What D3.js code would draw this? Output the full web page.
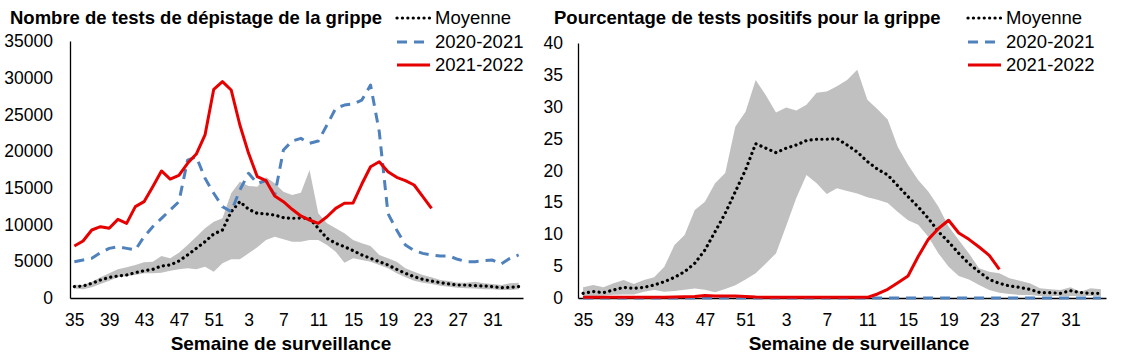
<!DOCTYPE html>
<html>
<head>
<meta charset="utf-8">
<script src="https://cdn.jsdelivr.net/npm/d3@7"></script>
<style>
  body { margin: 0; background: #fff; }
  svg { font-family: "Liberation Sans", Arial, sans-serif; }
</style>
</head>
<body>
<svg id="chart" width="1125" height="360"></svg>
<script>
// Surveillance weeks (season starts at week 35)
const weeks = [35, 36, 37, 38, 39, 40, 41, 42, 43, 44, 45, 46, 47, 48, 49, 50, 51, 52,
  1, 2, 3, 4, 5, 6, 7, 8, 9, 10, 11, 12, 13, 14, 15, 16, 17, 18, 19, 20, 21, 22, 23, 24,
  25, 26, 27, 28, 29, 30, 31, 32, 33, 34];
const tickWeeks = [35, 39, 43, 47, 51, 3, 7, 11, 15, 19, 23, 27, 31];
const seriesNames = ["Moyenne", "2020-2021", "2021-2022"];

// Left panel: number of tests
const testsTicks = [0, 5000, 10000, 15000, 20000, 25000, 30000, 35000];
const testsMoyenne = [1540, 1630, 2000, 2450, 2810, 3000, 3130, 3450, 3720, 3900, 4360, 4490, 5040,
  5860, 6760, 7670, 8720, 9260, 11750, 13120, 12080, 11530, 11440, 11300, 10940, 10850, 10900,
  10850, 9490, 8130, 7450, 6990, 6450, 5860, 5400, 4950, 4490, 3900, 3360, 2900, 2540, 2310,
  2090, 1910, 1770, 1770, 1680, 1630, 1540, 1400, 1450, 1540];
const testsMin = [1300, 1180, 1450, 1910, 2360, 2810, 3000, 3130, 3360, 3360, 3450, 3720, 3900,
  4040, 3900, 4270, 3580, 4720, 5270, 5270, 6080, 6900, 7900, 8350, 7990, 7670, 7670, 7900,
  7900, 7220, 6310, 4810, 5400, 5170, 4950, 4490, 4040, 3360, 2810, 2360, 2090, 1910, 1680,
  1540, 1400, 1320, 1290, 1180, 1180, 1090, 1090, 1180];
const testsMax = [1800, 1770, 2220, 2810, 3360, 3900, 4180, 4490, 4860, 4950, 5720, 5400, 6170,
  7220, 8350, 9490, 10390, 10850, 14260, 15840, 15250, 15160, 16430, 15620, 14480, 14030, 14350,
  17430, 11530, 10170, 9490, 8810, 7900, 7450, 7080, 5860, 5400, 4950, 4040, 3580, 3130, 2810,
  2450, 2310, 2090, 2090, 2220, 2000, 1910, 1770, 2000, 2090];
const tests2021 = [4950, 5170, 5400, 6170, 6760, 6990, 6760, 6540, 8350, 9710, 10850, 11980, 13120,
  18790, 19240, 16300, 14260, 12440, 11750, 14710, 16980, 15600, 16000, 14000, 20150, 21380,
  21740, 21060, 21380, 23560, 25830, 26280, 26420, 26960, 29000, 22650, 11500, 9260, 7220, 6450,
  6080, 5860, 5720, 5720, 5270, 4950, 4950, 5080, 5170, 4630, 5400, 5860];
const tests2022 = [7080, 7760, 9260, 9710, 9490, 10710, 10170, 12440, 13120, 15160, 17300, 16200,
  16700, 18340, 19610, 22200, 28420, 29460, 28330, 23560, 19700, 16520, 15980, 13890, 13120,
  12080, 11170, 10620, 10170, 11070, 12210, 12900, 12950, 15520, 17880, 18560, 17200, 16430,
  15980, 15390, 13800, 12210];

// Right panel: percentage of positive tests
const posTicks = [0, 5, 10, 15, 20, 25, 30, 35, 40];
const posMoyenne = [0.73, 1.0, 0.84, 1.25, 1.67, 1.5, 1.67, 2.04, 2.56, 3.24, 4.13, 5.44, 7.53,
  10.4, 13.3, 16.7, 20.1, 24.2, 23.5, 22.8, 23.5, 24.0, 24.7, 24.9, 24.9, 25.0, 24.0, 22.9, 21.4,
  20.2, 19.3, 17.6, 15.9, 14.3, 12.5, 10.4, 8.8, 7.0, 5.4, 4.1, 2.9, 2.3, 1.88, 1.67, 1.36, 0.84,
  0.84, 0.73, 1.15, 0.84, 0.73, 0.73];
const posMin = [0.3, 0.3, 0.35, 0.5, 0.55, 0.55, 1.0, 1.25, 1.0, 1.1, 1.3, 1.5, 1.3, 0.9, 1.4,
  2.0, 2.9, 3.9, 5.4, 7.0, 11.3, 15.7, 19.3, 18.0, 16.3, 17.2, 16.8, 16.4, 15.8, 15.4, 14.9, 13.5,
  12.2, 11.5, 9.6, 7.0, 4.9, 3.45, 2.9, 2.04, 1.25, 0.84, 0.63, 0.47, 0.47, 0.31, 0.31, 0.31,
  0.31, 0.31, 0.31, 0.31];
const posMax = [1.67, 2.04, 1.67, 2.3, 2.82, 2.2, 2.82, 3.24, 4.9, 8.3, 9.9, 13.8, 15.1, 18.0,
  19.6, 26.9, 29.2, 34.2, 31.8, 29.1, 29.9, 29.4, 30.3, 32.2, 32.4, 33.2, 34.2, 35.8, 31.1, 29.6,
  28.0, 23.7, 20.9, 18.5, 16.7, 14.3, 11.2, 9.1, 7.0, 4.65, 4.1, 3.87, 3.08, 2.72, 2.3, 1.52,
  1.36, 1.25, 1.67, 1.0, 1.52, 1.36];
const pos2021 = [0, 0, 0, 0, 0, 0, 0, 0, 0, 0, 0, 0, 0, 0, 0, 0, 0, 0, 0, 0, 0, 0, 0, 0, 0, 0,
  0, 0, 0, 0, 0, 0, 0, 0, 0, 0, 0, 0, 0, 0, 0, 0, 0, 0, 0, 0, 0, 0, 0, 0, 0, 0];
const pos2022 = [0.1, 0.1, 0.1, 0.1, 0.1, 0.1, 0.1, 0.1, 0.1, 0.15, 0.2, 0.25, 0.4, 0.3, 0.3,
  0.3, 0.25, 0.15, 0.1, 0.1, 0.1, 0.1, 0.1, 0.1, 0.1, 0.1, 0.1, 0.1, 0.1, 0.63, 1.36, 2.4, 3.45,
  6.5, 9.2, 10.9, 12.2, 10.2, 9.2, 8.0, 6.7, 4.5];

const svg = d3.select("#chart");
const bottom = 298;

// series styles: dotted mean, dashed previous season, solid current season
const styles = [
  { color: "#000", dash: "0.1 5.3", cap: "round", width: 3.2 },
  { color: "#4f81bd", dash: "10 7", cap: "butt", width: 3 },
  { color: "#e60000", dash: null, cap: "butt", width: 3 }
];

function drawPanel(p) {
  const x = d3.scalePoint()
    .domain(weeks)
    .range([p.left, p.right])
    .padding(0.5);

  const y = d3.scaleLinear()
    .domain([0, p.ticks[p.ticks.length - 1]])
    .range([bottom, p.top]);

  const g = svg.append("g");

  // min-max band
  const area = d3.area()
    .x((d, i) => x(weeks[i]))
    .y0((d, i) => y(p.min[i]))
    .y1((d, i) => y(p.max[i]));

  g.append("path")
    .datum(p.max)
    .attr("d", area)
    .attr("fill", "#c0c0c0");

  // axes
  const yAxis = g.append("g")
    .attr("transform", `translate(${p.left},0)`)
    .call(d3.axisLeft(y).tickValues(p.ticks).tickSize(0).tickPadding(p.yPad).tickFormat(d3.format("d")))
    .attr("font-size", 17.5)
    .attr("font-family", null);

  const xAxis = g.append("g")
    .attr("transform", `translate(0,${bottom})`)
    .call(d3.axisBottom(x).tickValues(tickWeeks).tickSize(0).tickPadding(16))
    .attr("font-size", 17.5)
    .attr("font-family", null);

  g.selectAll(".domain")
    .attr("stroke", "#000")
    .attr("stroke-width", 1.3);
  g.selectAll(".tick text").attr("fill", "#000");

  // series lines
  const line = d3.line()
    .x((d, i) => x(weeks[i]))
    .y((d) => y(d));

  p.series.forEach((s, k) => {
    g.append("path")
      .datum(s)
      .attr("d", line)
      .attr("fill", "none")
      .attr("stroke", styles[k].color)
      .attr("stroke-width", styles[k].width)
      .attr("stroke-dasharray", styles[k].dash)
      .attr("stroke-linecap", styles[k].cap)
      .attr("stroke-linejoin", "round");
  });

  // title
  g.append("text")
    .attr("x", p.titleX)
    .attr("y", 24)
    .attr("font-size", 18.5)
    .attr("font-weight", "bold")
    .text(p.title);

  // axis title
  g.append("text")
    .attr("x", p.axisTitleX)
    .attr("y", 350)
    .attr("text-anchor", "middle")
    .attr("font-size", 19)
    .attr("font-weight", "bold")
    .text("Semaine de surveillance");

  // legend
  const legend = g.selectAll(".legend")
    .data(seriesNames)
    .enter()
    .append("g")
    .attr("class", "legend")
    .attr("transform", (d, i) => `translate(${p.legendX},${[18, 42, 65][i]})`);

  legend.append("line")
    .attr("x1", 0)
    .attr("x2", 33)
    .attr("stroke", (d, i) => styles[i].color)
    .attr("stroke-width", (d, i) => styles[i].width)
    .attr("stroke-dasharray", (d, i) => styles[i].dash)
    .attr("stroke-linecap", (d, i) => styles[i].cap);

  legend.append("text")
    .attr("x", 38)
    .attr("dy", "0.35em")
    .attr("font-size", 18.5)
    .text((d) => d);
}

drawPanel({
  left: 70, right: 523, top: 41, yPad: 17,
  ticks: testsTicks, min: testsMin, max: testsMax,
  series: [testsMoyenne, tests2021, tests2022],
  title: "Nombre de tests de dépistage de la grippe", titleX: 10,
  axisTitleX: 281, legendX: 397
});

drawPanel({
  left: 578, right: 1106, top: 43, yPad: 15,
  ticks: posTicks, min: posMin, max: posMax,
  series: [posMoyenne, pos2021, pos2022],
  title: "Pourcentage de tests positifs pour la grippe", titleX: 554,
  axisTitleX: 859, legendX: 968
});
</script>
</body>
</html>
